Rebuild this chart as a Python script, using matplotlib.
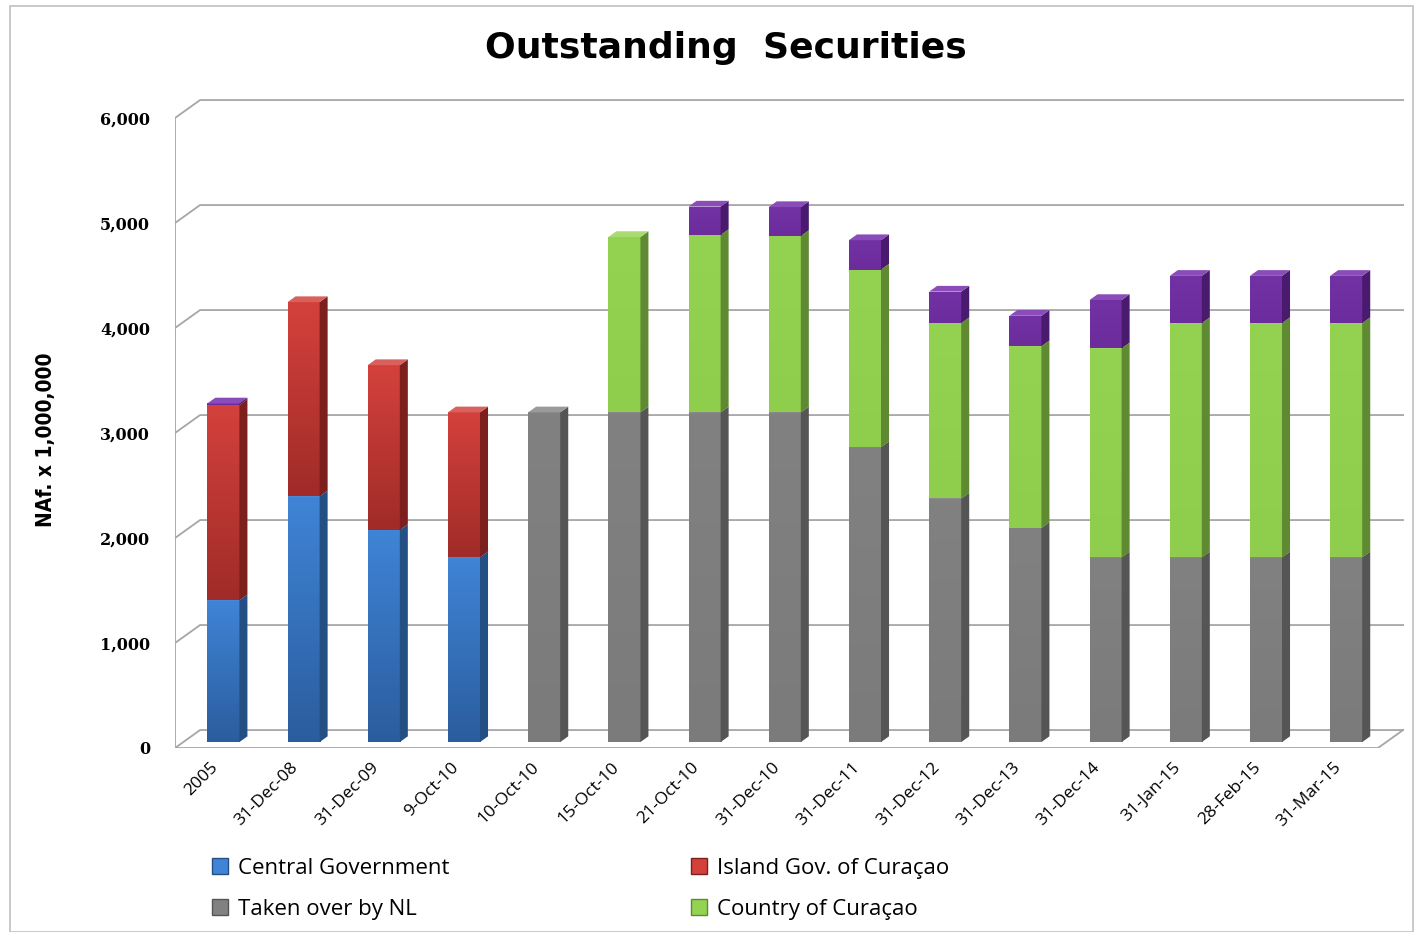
import matplotlib
matplotlib.use("Agg")
import numpy as np
import matplotlib.pyplot as plt
import matplotlib.transforms as mtrans
from matplotlib.patches import Polygon, Rectangle
from matplotlib.colors import LinearSegmentedColormap
from matplotlib import font_manager

# data (NAf. x 1,000,000)
categories = ['2005', '31-Dec-08', '31-Dec-09', '9-Oct-10', '10-Oct-10', '15-Oct-10',
              '21-Oct-10', '31-Dec-10', '31-Dec-11', '31-Dec-12', '31-Dec-13',
              '31-Dec-14', '31-Jan-15', '28-Feb-15', '31-Mar-15']
central_gov = [1350, 2340, 2020, 1760, 0, 0, 0, 0, 0, 0, 0, 0, 0, 0, 0]
island_gov = [1860, 1850, 1570, 1380, 0, 0, 0, 0, 0, 0, 0, 0, 0, 0, 0]
taken_nl = [0, 0, 0, 0, 3140, 3140, 3140, 3140, 2810, 2320, 2040, 1760, 1760, 1760, 1760]
country_cur = [0, 0, 0, 0, 0, 1670, 1690, 1680, 1690, 1670, 1730, 1990, 2230, 2230, 2230]
other = [15, 0, 0, 0, 0, 0, 270, 275, 280, 300, 290, 460, 450, 450, 450]
legend_labels = ['Central Government', 'Island Gov. of Curaçao', 'Taken over by NL', 'Country of Curaçao']
yticks = [0, 1000, 2000, 3000, 4000, 5000, 6000]

# (front top, front bottom, side, top face)
colors = [
    ('#3f84d6', '#2b5d9e', '#234f85', '#5b93d8'),
    ('#d4413c', '#a02b28', '#7c1f1d', '#d9605b'),
    ('#818181', '#7b7b7b', '#555555', '#9a9a9a'),
    ('#94d252', '#8fcd4c', '#5f8a32', '#a8dc70'),
    ('#7332a4', '#6d2c9c', '#4a1a6e', '#8a4cb8'),
]
series = [central_gov, island_gov, taken_nl, country_cur, other]


def pick(names, default):
    have = {f.name for f in font_manager.fontManager.ttflist}
    for n in names:
        if n in have:
            return n
    return default


body = pick(['Open Sans', 'Lato'], 'DejaVu Sans')

# oblique "3D" projection: depth z shifts by (DX, DY) in data units
DX = 0.3125
DY = 171
z0, z1 = 0.33, 0.65
bw = 0.4

fig = plt.figure(figsize=(14.21, 9.32), dpi=100)
ax = fig.add_axes([175 / 1421, 1 - 748 / 932, (1405 - 175) / 1421, (748 - 98) / 932])
xlim = (-0.5, -0.5 + (1405 - 175) / 80.2)
ylim = (0, 650 / 0.105)
for s in ax.spines.values():
    s.set_visible(False)

wall = '#a6a6a6'
xl, xr = -0.5, len(categories) - 0.5
# gridlines on back wall + diagonals on the left wall
for t in yticks:
    ax.plot([xl, xl + DX, xr + DX], [t, t + DY, t + DY], color=wall, lw=1.3, zorder=1)
ax.plot([xl, xl], [0, yticks[-1]], color=wall, lw=1.3, zorder=1)
ax.plot([xl, xr, xr + DX], [0, 0, DY], color=wall, lw=1.3, zorder=1)

grad = np.linspace(1, 0, 64).reshape(-1, 1)

# bars
for i in range(len(categories)):
    x0 = i - bw / 2 + z0 * DX
    x1 = x0 + bw
    d = (z1 - z0)
    bottom = 0
    for k, vals in enumerate(series):
        v = vals[i]
        if v <= 0:
            continue
        ctop, cbot, sc, tc = colors[k]
        zo = 3 + i * 0.01
        yb = bottom + z0 * DY
        bars = ax.bar(x0 + bw / 2, v, bottom=yb, width=bw, color=ctop, zorder=zo)
        cmap = LinearSegmentedColormap.from_list('g', [cbot, ctop])
        im = ax.imshow(grad, cmap=cmap, extent=[x0, x1, yb, yb + v], aspect='auto',
                       origin='upper', zorder=zo, interpolation='bilinear')
        im.set_clip_path(bars[0])
        yt = yb + v
        side = Polygon([(x1, yb), (x1 + d * DX, yb + d * DY), (x1 + d * DX, yt + d * DY), (x1, yt)],
                       closed=True, facecolor=sc, edgecolor='none', zorder=zo)
        top = Polygon([(x0, yt), (x1, yt), (x1 + d * DX, yt + d * DY), (x0 + d * DX, yt + d * DY)],
                      closed=True, facecolor=tc, edgecolor='none', zorder=zo)
        ax.add_patch(side)
        ax.add_patch(top)
        bottom += v

ax.set_xlim(*xlim)
ax.set_ylim(*ylim)
ax.set_yticks(yticks)
ax.set_yticklabels([f'{t:,}' for t in yticks], fontfamily='DejaVu Serif', fontsize=11.5, fontweight='bold')
ax.tick_params(axis='y', length=0, pad=18)
ax.set_xticks(range(len(categories)))
ax.set_xticklabels(categories, rotation=45, ha='right', rotation_mode='anchor', fontfamily=body, fontsize=12.5)
ax.tick_params(axis='x', length=0, pad=8)
shift = mtrans.ScaledTranslation(-5 / 100, 0, fig.dpi_scale_trans)
for lab in ax.get_xticklabels():
    lab.set_transform(lab.get_transform() + shift)

fig.text(0.511, 1 - 48 / 932, 'Outstanding  Securities', ha='center', va='center',
         fontsize=26, fontweight='bold', fontfamily='DejaVu Sans')
fig.text(46 / 1421, 1 - 440 / 932, 'NAf. x 1,000,000', rotation=90, ha='center', va='center',
         fontsize=15, fontweight='bold', fontfamily='DejaVu Sans', fontstretch='condensed')

# legend
handles = [Rectangle((0, 0), 1, 1, facecolor=colors[k][0], edgecolor=colors[k][2]) for k in range(4)]
order = [0, 2, 1, 3]
fig.legend([handles[k] for k in order], [legend_labels[k] for k in order], ncol=2,
           loc='upper left', bbox_to_anchor=(192 / 1421, 1 - 838 / 932), frameon=False,
           prop={'family': body, 'size': 16}, handlelength=0.7, handleheight=0.7,
           handletextpad=0.45, columnspacing=10.9, labelspacing=0.9)

fig.patches.append(Rectangle((10 / 1421, 0), 1403 / 1421, 1 - 6 / 932, transform=fig.transFigure,
                             fill=False, edgecolor='#c0c0c0', lw=1.2))

fig.savefig('out.png', dpi=100)
